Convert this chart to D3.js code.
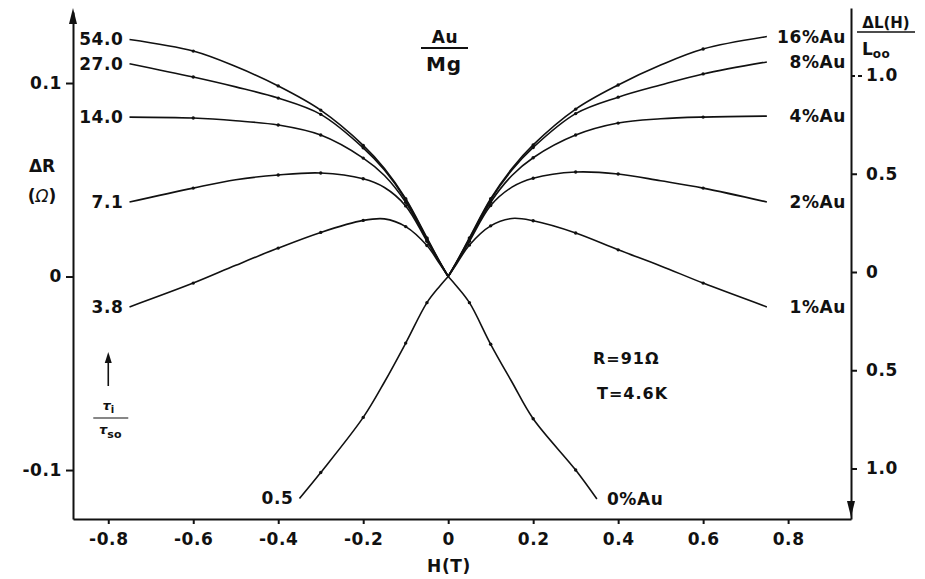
<!DOCTYPE html>
<html>
<head>
<meta charset="utf-8">
<script src="https://cdn.jsdelivr.net/npm/d3@7"></script>
<style>
  html, body { margin: 0; padding: 0; background: #fff; }
  svg { display: block; }
  text { font-family: "DejaVu Sans", "Liberation Sans", Arial, sans-serif; font-weight: bold; fill: #111; }
  .axis path, .axis line { stroke: #111; stroke-width: 2; }
  .axis text { font-size: 17px; letter-spacing: 0.6px; }
</style>
</head>
<body>
<svg id="chart" width="925" height="579"></svg>
<script>
// Magnetoresistance of Au-doped Mg films, R = 91 Ω, T = 4.6 K
// Field values (tesla) at which each curve is sampled
const fieldT = [-0.75, -0.6, -0.5, -0.4, -0.3, -0.2, -0.15, -0.1, -0.05, -0.02, 0,
                0.02, 0.05, 0.1, 0.15, 0.2, 0.3, 0.4, 0.5, 0.6, 0.75];
const fieldPure = [-0.35, -0.3, -0.2, -0.15, -0.1, -0.05, -0.02, 0,
                   0.02, 0.05, 0.1, 0.15, 0.2, 0.3, 0.35];

// ΔR (Ω) for each gold concentration
const dR_16 = [0.1225, 0.1165, 0.1085, 0.0985, 0.0860, 0.0678, 0.0558, 0.0402, 0.0200, 0.0077, 0,
               0.0077, 0.0200, 0.0402, 0.0558, 0.0680, 0.0865, 0.0990, 0.1093, 0.1176, 0.1240];
const dR_8  = [0.1100, 0.1031, 0.0980, 0.0922, 0.0838, 0.0665, 0.0550, 0.0397, 0.0195, 0.0075, 0,
               0.0075, 0.0195, 0.0397, 0.0550, 0.0667, 0.0842, 0.0927, 0.0990, 0.1047, 0.1109];
const dR_4  = [0.0824, 0.0819, 0.0805, 0.0783, 0.0731, 0.0612, 0.0522, 0.0384, 0.0189, 0.0073, 0,
               0.0073, 0.0189, 0.0384, 0.0522, 0.0614, 0.0731, 0.0793, 0.0815, 0.0824, 0.0829];
const dR_2  = [0.0385, 0.0457, 0.0500, 0.0525, 0.0535, 0.0505, 0.0460, 0.0365, 0.0182, 0.0072, 0,
               0.0072, 0.0182, 0.0367, 0.0462, 0.0508, 0.0540, 0.0530, 0.0495, 0.0457, 0.0385];
const dR_1  = [-0.0157, -0.0034, 0.0058, 0.0147, 0.0228, 0.0290, 0.0298, 0.0258, 0.0160, 0.0066, 0,
               0.0066, 0.0163, 0.0262, 0.0300, 0.0288, 0.0225, 0.0138, 0.0055, -0.0034, -0.0157];
const dR_0  = [-0.1147, -0.1013, -0.0728, -0.0545, -0.0344, -0.0135, -0.0050, 0,
               -0.0050, -0.0135, -0.0350, -0.0545, -0.0735, -0.1000, -0.1150];

// Curve labels: spin-orbit scattering ratio (left) and gold content (right)
const tauRatio = ["54.0", "27.0", "14.0", "7.1", "3.8", "0.5"];
const goldPct  = ["16%Au", "8%Au", "4%Au", "2%Au", "1%Au", "0%Au"];

// Measured points marked on the curves
const markedT = [-0.6, -0.4, -0.3, -0.2, -0.1, -0.05, 0.05, 0.1, 0.2, 0.3, 0.4, 0.6];

// Axis ticks
const xTicks  = [-0.8, -0.6, -0.4, -0.2, 0, 0.2, 0.4, 0.6, 0.8];
const yTicks  = [-0.1, 0, 0.1];
const yRTicks = [1.0, 0.5, 0, -0.5, -1.0];

const series = [
  { field: fieldT, values: dR_16 },
  { field: fieldT, values: dR_8 },
  { field: fieldT, values: dR_4 },
  { field: fieldT, values: dR_2 },
  { field: fieldT, values: dR_1 },
  { field: fieldPure, values: dR_0 }
].map((s, i) => ({
  tau: tauRatio[i],
  gold: goldPct[i],
  points: s.field.map((h, j) => ({ h, v: s.values[j] }))
}));

const svg = d3.select("#chart");
const ink = "#111";

const x  = d3.scaleLinear().domain([-0.883, 0.948]).range([73, 851]);
const y  = d3.scaleLinear().domain([-0.1253, 0.1367]).range([519, 12]);
const yR = d3.scaleLinear().domain([-1.257, 1.3435]).range([519, 8]);

const fmt = d => d === 0 ? "0" : d.toFixed(1);

// Axes
svg.append("g").attr("class", "axis")
  .attr("transform", `translate(0,${y.range()[0]})`)
  .call(d3.axisBottom(x).tickValues(xTicks).tickFormat(fmt).tickSize(5).tickSizeOuter(0).tickPadding(9));

svg.append("g").attr("class", "axis")
  .attr("transform", `translate(${x.range()[0]},0)`)
  .call(d3.axisLeft(y).tickValues(yTicks).tickFormat(fmt).tickSize(7).tickSizeOuter(0).tickPadding(4));

const rightAxis = svg.append("g").attr("class", "axis")
  .attr("transform", `translate(${x.range()[1]},0)`)
  .call(d3.axisRight(yR).tickValues(yRTicks).tickFormat(d => fmt(Math.abs(d))).tickSize(6).tickSizeOuter(0).tickPadding(9));
// the top ΔL tick is drawn as a short dashed leader
rightAxis.selectAll(".tick").filter(d => d === 1.0).select("line")
  .attr("x2", 14).attr("stroke-dasharray", "4,3").attr("stroke-width", 1.6);

// Arrowheads: up on the ΔR axis, down on the ΔL axis
const x0 = x.range()[0], x1 = x.range()[1];
svg.append("path")
  .attr("d", `M${x0},${y.range()[1] - 4} L${x0 - 4},${y.range()[1] + 12} L${x0 + 4},${y.range()[1] + 12} Z`)
  .attr("fill", ink);
svg.append("path")
  .attr("d", `M${x1},${yR.range()[0] - 2} L${x1 - 4},${yR.range()[0] - 18} L${x1 + 4},${yR.range()[0] - 18} Z`)
  .attr("fill", ink);

// Curves, drawn as two branches meeting at H = 0
const line = d3.line().x(d => x(d.h)).y(d => y(d.v)).curve(d3.curveCatmullRom.alpha(0.5));
series.forEach(s => {
  const left = s.points.filter(p => p.h <= 0);
  const right = s.points.filter(p => p.h >= 0);
  [left, right].forEach(branch => {
    svg.append("path").datum(branch)
      .attr("d", line)
      .attr("fill", "none")
      .attr("stroke", ink)
      .attr("stroke-width", 1.6);
  });
  svg.append("g").selectAll("circle")
    .data(s.points.filter(p => markedT.includes(p.h)))
    .join("circle")
    .attr("cx", d => x(d.h)).attr("cy", d => y(d.v))
    .attr("r", 1.7).attr("fill", ink);
});

// Curve labels
series.forEach((s, i) => {
  const first = s.points[0], last = s.points[s.points.length - 1];
  const pure = i === series.length - 1;
  svg.append("text")
    .attr("x", x(first.h) - 6).attr("y", y(first.v) + 6)
    .attr("text-anchor", "end")
    .attr("font-size", 17).attr("letter-spacing", 0.6)
    .text(s.tau);
  svg.append("text")
    .attr("x", pure ? x(last.h) + 10 : x1 - 5)
    .attr("y", y(last.v) + 6)
    .attr("text-anchor", pure ? "start" : "end")
    .attr("font-size", 17).attr("letter-spacing", 0.6)
    .text(s.gold);
});

// ΔR axis title
svg.append("text").attr("x", 42).attr("y", 172).attr("text-anchor", "middle")
  .attr("font-size", 17).text("ΔR");
const ohm = svg.append("text").attr("x", 42).attr("y", 202).attr("text-anchor", "middle")
  .attr("font-size", 17);
ohm.append("tspan").text("(");
ohm.append("tspan").attr("font-style", "italic").attr("font-weight", "normal").text("Ω");
ohm.append("tspan").text(")");

// τi/τso with arrow pointing toward increasing ratio
const tx = x(-0.8);
svg.append("line").attr("x1", tx).attr("x2", tx).attr("y1", 386).attr("y2", 360)
  .attr("stroke", ink).attr("stroke-width", 1.6);
svg.append("path").attr("d", `M${tx},352 L${tx - 3.5},363 L${tx + 3.5},363 Z`).attr("fill", ink);
const tNum = svg.append("text").attr("x", tx).attr("y", 410).attr("text-anchor", "middle")
  .attr("font-size", 13).attr("font-weight", "normal");
tNum.append("tspan").attr("font-style", "italic").text("τ");
tNum.append("tspan").attr("font-size", 10).attr("dy", 3).text("i");
svg.append("line").attr("x1", tx - 15).attr("x2", tx + 20).attr("y1", 418).attr("y2", 418)
  .attr("stroke", ink).attr("stroke-width", 1.2);
const tDen = svg.append("text").attr("x", tx + 2).attr("y", 434).attr("text-anchor", "middle")
  .attr("font-size", 13).attr("font-weight", "normal");
tDen.append("tspan").attr("font-style", "italic").text("τ");
tDen.append("tspan").attr("font-size", 11).attr("font-weight", "bold").attr("dy", 4).text("so");

// Au/Mg fraction
svg.append("text").attr("x", 445).attr("y", 43).attr("text-anchor", "middle")
  .attr("font-size", 17).attr("letter-spacing", 0.6).text("Au");
svg.append("line").attr("x1", 421).attr("x2", 468).attr("y1", 48).attr("y2", 48)
  .attr("stroke", ink).attr("stroke-width", 2);
svg.append("text").attr("x", 444).attr("y", 71).attr("text-anchor", "middle")
  .attr("font-size", 20).attr("letter-spacing", 0.8).text("Mg");

// ΔL(H)/L00 axis title
svg.append("text").attr("x", 886).attr("y", 28).attr("text-anchor", "middle")
  .attr("font-size", 15).text("ΔL(H)");
svg.append("line").attr("x1", 857).attr("x2", 915).attr("y1", 32).attr("y2", 32)
  .attr("stroke", ink).attr("stroke-width", 1.6);
const l00 = svg.append("text").attr("x", 862).attr("y", 55).attr("font-size", 17);
l00.append("tspan").text("L");
l00.append("tspan").attr("font-size", 12).attr("dy", 3).attr("letter-spacing", 0.5).text("oo");

// Sample parameters
svg.append("text").attr("x", 593).attr("y", 364).attr("font-size", 16).attr("letter-spacing", 1)
  .text("R=91Ω");
svg.append("text").attr("x", 597).attr("y", 399).attr("font-size", 16).attr("letter-spacing", 1)
  .text("T=4.6K");

// Field axis title
svg.append("text").attr("x", 449).attr("y", 572).attr("text-anchor", "middle")
  .attr("font-size", 17).attr("letter-spacing", 0.6).text("H(T)");
</script>
</body>
</html>
